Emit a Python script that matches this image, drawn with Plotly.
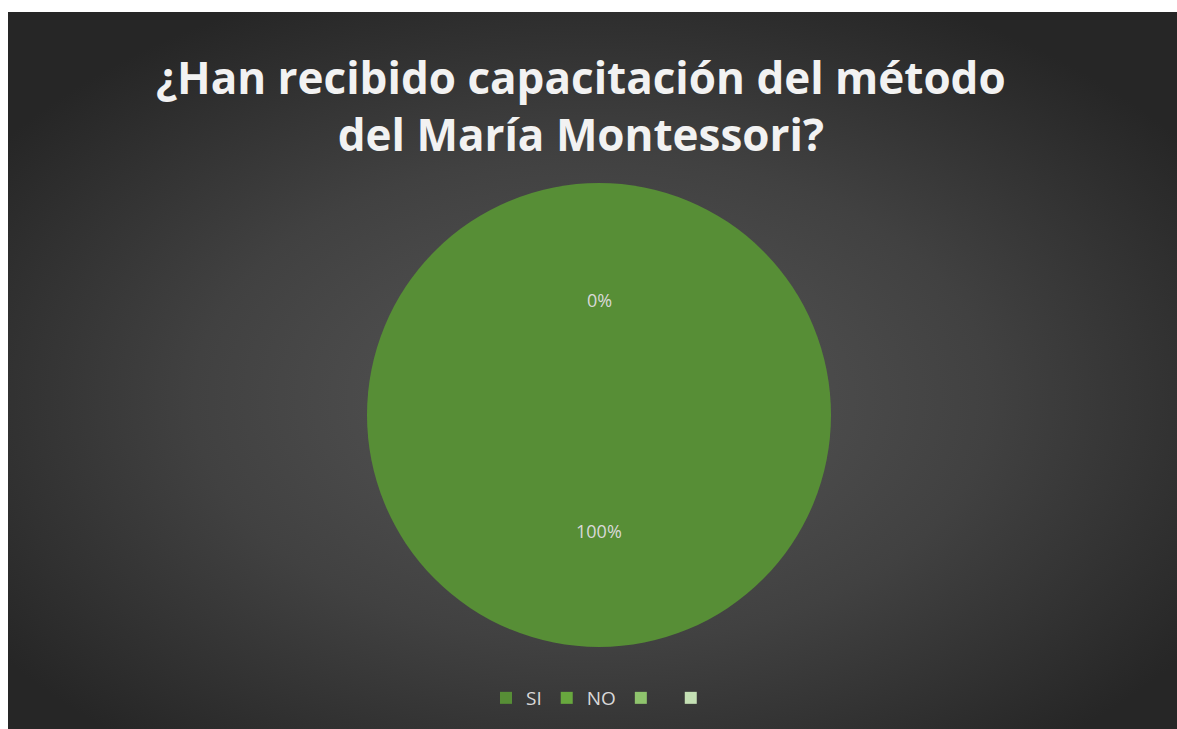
import base64
import plotly.graph_objects as go

# ---- data ----
categories = ["SI", "NO", " ", "  "]
values = [30, 0, 0, 0]
colors = ["#578e36", "#68a83e", "#8fc46d", "#c4e0b4"]
title_lines = ["¿Han recibido capacitación del método", "del María Montessori?"]

W, H = 1177, 729

# background: radial gradient panel inset with a white margin on top/left
svg = f'''<svg xmlns="http://www.w3.org/2000/svg" width="{W-8}" height="{H-12}" preserveAspectRatio="none">
<defs><radialGradient id="g" cx="50%" cy="54%" r="62%" fx="50%" fy="54%">
<stop offset="0%" stop-color="#585858"/><stop offset="55%" stop-color="#414141"/><stop offset="100%" stop-color="#262626"/>
</radialGradient></defs><rect width="100%" height="100%" fill="url(#g)"/></svg>'''
bg_uri = "data:image/svg+xml;base64," + base64.b64encode(svg.encode()).decode()

total = sum(values)
pcts = [v / total * 100 for v in values]

cx, cy, r = 599, 415, 232
fig = go.Figure()
fig.add_trace(go.Pie(
    labels=categories,
    values=values,
    marker=dict(colors=colors, line=dict(width=0)),
    textinfo="none",
    sort=False,
    direction="clockwise",
    rotation=0,
    hoverinfo="label+percent",
    domain=dict(x=[(cx - 300) / W, (cx + 300) / W], y=[(H - cy - r) / H, (H - cy + r) / H]),
    showlegend=True,
))

# percentage labels (NO slice = 0% shown at top, SI = 100% lower half)
label_pos = {"SI": (cx, 545), "NO": (cx, 300)}
for cat, p in zip(categories, pcts):
    if cat in label_pos:
        x, y = label_pos[cat]
        fig.add_annotation(x=x / W, y=1 - y / H, xref="paper", yref="paper",
                           text=f"{p:.0f}%", showarrow=False,
                           font=dict(family="Open Sans", size=18, color="#d9d9d9"))

fig.add_annotation(x=581 / W, y=1 - 106 / H, xref="paper", yref="paper",
                   text="<br>".join(title_lines), showarrow=False,
                   font=dict(family="Open Sans", size=44, color="#f2f2f2", weight="bold"),
                   xanchor="center", yanchor="middle")

fig.update_layout(
    width=W, height=H,
    margin=dict(l=0, r=0, t=0, b=0),
    paper_bgcolor="white",
    plot_bgcolor="rgba(0,0,0,0)",
    images=[dict(source=bg_uri, xref="paper", yref="paper", x=8 / W, y=1 - 12 / H,
                 sizex=(W - 8) / W, sizey=(H - 12) / H, sizing="stretch",
                 xanchor="left", yanchor="top", layer="below")],
    legend=dict(orientation="h", x=606 / W, y=1 - 698 / H, xanchor="center", yanchor="middle",
                font=dict(family="Open Sans", size=19, color="#d9d9d9"),
                bgcolor="rgba(0,0,0,0)", itemclick=False),
)

fig.write_html("out.html")
